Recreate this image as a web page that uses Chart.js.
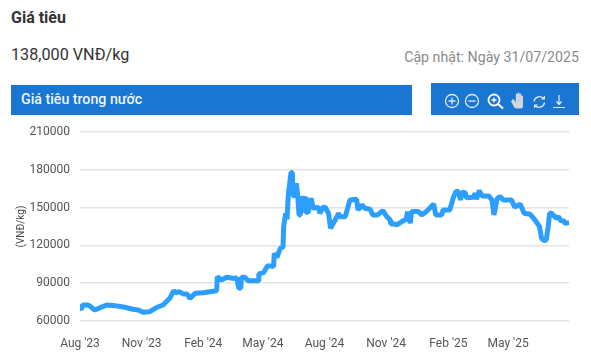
<!DOCTYPE html>
<html>
<head>
<meta charset="utf-8">
<title>Giá tiêu</title>
<script src="https://cdn.jsdelivr.net/npm/chart.js@4/dist/chart.umd.min.js"></script>
<style>
  html, body { margin: 0; padding: 0; background: #fff; }
  body { width: 591px; height: 359px; position: relative; overflow: hidden; font-family: Roboto, sans-serif; color: #333; }
  .abs { position: absolute; white-space: nowrap; }
  #title { left: 11px; top: 8px; font-size: 16px; line-height: 19px; font-weight: 700; }
  #price { left: 11px; top: 45px; font-size: 16.2px; line-height: 20px; }
  #updated { right: 12px; top: 49px; font-size: 14.2px; line-height: 17px; color: #8a8a8a; }
  #bar { left: 11px; top: 85px; width: 401px; height: 30px; background: #1976d2; color: #eef5fb; font-size: 14.2px; font-weight: 500; line-height: 29px; text-indent: 10px; }
  #tools { left: 431px; top: 83px; width: 148px; height: 32px; background: #1976d2; }
  #tools svg { position: absolute; left: 0; top: 0; }
  #wrap { left: 0; top: 115px; width: 591px; height: 244px; }
</style>
</head>
<body>
<div class="abs" id="title">Giá tiêu</div>
<div class="abs" id="price">138,000 VNĐ/kg</div>
<div class="abs" id="updated">Cập nhật: Ngày 31/07/2025</div>
<div class="abs" id="bar">Giá tiêu trong nước</div>
<div class="abs" id="tools">
  <svg width="148" height="32" fill="none" stroke="#e4ecf4" stroke-width="1.3">
    <circle cx="21" cy="18" r="6.5"/><path d="M17.5 18h7M21 14.5v7"/>
    <circle cx="41" cy="18" r="6.5"/><path d="M37.5 18h7"/>
    <circle cx="63" cy="17" r="5.5" stroke="#fff" stroke-width="1.8"/><path d="M60.500 17h5M63 14.500v5" stroke="#fff"/><path d="M67 21l5 4.500" stroke="#fff" stroke-width="2"/>
    <path d="M80 18.500l3 5.500q1 1.500 3 1.500h4q2 0 2-3v-9a.9 .9 0 0 0-1.800 0v4v-6a.9 .9 0 0 0-1.800 0v6v-7a.9 .9 0 0 0-1.800 0v7v-6a.9 .9 0 0 0-1.800 0v8l-1.800-3q-2-1-2.500 1.500z" fill="#cfd6de" stroke="none"/>
    <path d="M103 18.500a5.500 5.500 0 0 1 9-3.500M113.500 19.500a5.500 5.500 0 0 1-9 3.500" stroke-width="1.4"/>
    <path d="M114 12.500v4h-4zM103 25.500v-4h4z" fill="#e4ecf4" stroke="none"/>
    <path d="M128 12v9M125.500 18.500l2.500 3 2.500-3M122 24.500h12" stroke-width="1.2"/>
  </svg>
</div>
<div class="abs" id="wrap"><canvas id="myChart" width="591" height="244"></canvas></div>
<script>
// days since 1 Aug 2023
const days = [0, 2, 4, 12, 16, 22, 30, 40, 52, 67, 79, 87, 94, 104, 115, 124, 134, 140, 143, 148, 154, 160, 164, 172, 184, 194, 204, 205, 211, 219, 228, 234, 237, 240, 241, 246, 251, 266, 267, 274, 280, 289, 290, 294, 299, 303, 304, 307, 309, 311, 315, 317, 318, 321, 323, 325, 327, 329, 331, 334, 336, 337, 341, 344, 345, 348, 356, 358, 363, 366, 371, 374, 381, 386, 388, 396, 403, 413, 415, 421, 425, 433, 437, 444, 452, 458, 463, 464, 470, 473, 480, 487, 489, 493, 495, 505, 510, 517, 528, 531, 540, 542, 552, 557, 561, 565, 568, 571, 575, 577, 587, 590, 592, 596, 600, 610, 615, 618, 623, 627, 632, 644, 649, 657, 663, 672, 679, 686, 689, 693, 696, 699, 701, 704, 711, 714, 719, 721, 724, 730];
const prices = [70300, 69100, 72700, 72700, 71400, 68700, 70600, 72700, 72200, 70900, 69300, 68700, 66900, 67400, 70900, 72700, 78000, 84100, 82300, 83300, 81500, 81500, 78000, 82000, 82500, 83300, 84100, 95200, 92600, 94700, 93900, 94200, 86000, 86200, 94700, 94700, 92000, 92000, 97400, 98400, 104000, 103200, 113800, 110600, 117800, 118600, 135000, 145600, 140800, 160100, 177900, 177900, 160100, 158800, 169500, 159400, 144300, 144300, 158800, 156000, 158800, 146100, 146900, 155000, 157500, 149600, 150400, 145600, 150400, 150400, 145600, 133700, 140300, 145600, 142900, 142900, 156200, 156700, 148200, 152200, 149600, 148800, 144300, 144300, 147700, 142900, 140300, 137100, 137100, 136300, 138900, 140900, 146900, 137700, 146900, 146900, 144300, 146900, 153000, 144300, 144300, 148200, 148200, 157500, 162800, 162800, 156200, 162300, 162000, 158000, 158300, 161500, 156700, 163600, 159400, 159400, 156200, 144300, 157500, 158800, 156200, 156200, 150400, 152900, 145600, 144800, 140300, 135000, 125700, 123800, 124400, 135000, 145600, 145600, 141600, 142900, 138900, 140300, 137700, 138000];
const tickDays = [0, 92, 184, 273, 365, 457, 550, 639];
const tickLabels = ["Aug '23", "Nov '23", "Feb '24", "May '24", "Aug '24", "Nov '24", "Feb '25", "May '25"];

const ctx = document.getElementById('myChart');
const myChart = new Chart(ctx, {
  type: 'line',
  data: {
    datasets: [{
      label: 'Giá tiêu',
      data: days.map((d, i) => ({ x: d, y: prices[i] })),
      borderColor: '#2b9eff',
      borderWidth: 5,
      borderJoinStyle: 'bevel',
      pointRadius: 0,
      tension: 0
    }]
  },
  options: {
    responsive: false,
    animation: false,
    layout: { padding: { left: 15, right: 22, top: 7, bottom: 0 } },
    plugins: { legend: { display: false }, tooltip: { enabled: false } },
    scales: {
      x: {
        type: 'linear',
        min: 0,
        max: 730,
        afterBuildTicks: (axis) => { axis.ticks = tickDays.map((v) => ({ value: v })); },
        afterFit: (axis) => { axis.height = 38; },
        grid: { display: false },
        border: { display: false },
        ticks: {
          autoSkip: false,
          maxRotation: 0,
          padding: 8,
          color: '#555',
          font: { family: 'Roboto', size: 12 },
          callback: (value, index) => tickLabels[index]
        }
      },
      y: {
        min: 60000,
        max: 210000,
        afterFit: (axis) => { axis.width = 65; },
        grid: { color: '#e4e4e4', lineWidth: 1.5, drawTicks: false },
        border: { display: false },
        title: { display: true, text: '(VNĐ/kg)', color: '#444', padding: 0, font: { family: 'Roboto', size: 10 } },
        ticks: {
          stepSize: 30000,
          padding: 10,
          color: '#555',
          font: { family: 'Roboto', size: 12 },
          callback: (value) => String(value)
        }
      }
    }
  }
});
</script>
</body>
</html>
